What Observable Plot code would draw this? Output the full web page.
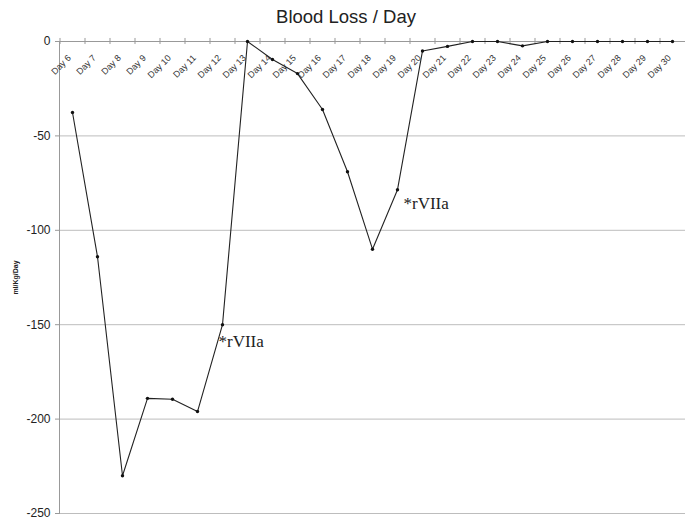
<!DOCTYPE html>
<html>
<head>
<meta charset="utf-8">
<script src="https://cdn.jsdelivr.net/npm/d3@7"></script>
<script src="https://cdn.jsdelivr.net/npm/@observablehq/plot@0.6"></script>
<style>
  body { margin: 0; background: #fff; }
  #title { width: 692px; height: 34px; line-height: 34px; text-align: center;
           font-family: "Liberation Sans", Arial, sans-serif; font-size: 18.5px; color: #222; }
</style>
</head>
<body>
<div id="title">Blood Loss / Day</div>
<div id="chart"></div>
<script>
const days = ["Day 6","Day 7","Day 8","Day 9","Day 10","Day 11","Day 12","Day 13","Day 14","Day 15",
  "Day 16","Day 17","Day 18","Day 19","Day 20","Day 21","Day 22","Day 23","Day 24","Day 25",
  "Day 26","Day 27","Day 28","Day 29","Day 30"];
const loss = [-37.6, -114, -230, -189, -189.5, -196, -150, 0, -9.5, -17,
  -36, -69, -110, -78.5, -5, -2.6, 0, 0, -2.3, 0,
  0, 0, 0, 0, 0];
const yTicks = [0, -50, -100, -150, -200, -250];
const noteDays = ["Day 12", "Day 19"];
const noteValues = [-150, -78.5];
const noteLabels = ["*rVIIa", "*rVIIa"];

const data = days.map((d, i) => ({day: d, value: loss[i]}));
const notes = noteDays.map((d, i) => ({day: d, value: noteValues[i], label: noteLabels[i]}));

const chart = Plot.plot({
  width: 692,
  height: 485,
  marginTop: 7,
  marginBottom: 6,
  marginLeft: 59,
  marginRight: 7,
  style: {fontFamily: "'Liberation Sans', Arial, sans-serif", background: "#fff", color: "#222"},
  x: {type: "point", domain: days, padding: 0.5},
  y: {domain: [-250, 0]},
  marks: [
    Plot.gridY(yTicks, {stroke: "#bdbdbd", strokeOpacity: 1}),
    Plot.axisY(yTicks, {tickFormat: d => String(d), fontSize: 12, tickSize: 4, tickPadding: 5, stroke: "#999", label: null}),
    Plot.axisY([], {label: "ml/Kg/Day", labelAnchor: "center", labelArrow: "none", labelOffset: 46, fontSize: 7, fontWeight: "bold"}),
    Plot.axisX([], {label: null}),
    Plot.frame({anchor: "left", stroke: "#999"}),
    Plot.ruleY([0], {stroke: "#999"}),
    Plot.ruleX(days, {x: d => d, y1: 1.6, y2: -1.6, dx: -12.5, stroke: "#999"}),
    Plot.text(days, {x: d => d, y: 0, rotate: -45, textAnchor: "end", dx: -3, dy: 15, fontSize: 9, fill: "#333"}),
    Plot.line(data, {x: "day", y: "value", stroke: "#222", strokeWidth: 1.1}),
    Plot.dot(data, {x: "day", y: "value", r: 1.7, fill: "#111", stroke: "none"}),
    Plot.text(notes.slice(0, 1), {x: "day", y: "value", text: "label", textAnchor: "start", dx: -4, dy: 17,
      fontSize: 17, fontFamily: "'Liberation Serif', 'Times New Roman', serif", fill: "#222"}),
    Plot.text(notes.slice(1), {x: "day", y: "value", text: "label", textAnchor: "start", dx: 6, dy: 14,
      fontSize: 17, fontFamily: "'Liberation Serif', 'Times New Roman', serif", fill: "#222"})
  ]
});
document.getElementById("chart").appendChild(chart);
</script>
</body>
</html>
